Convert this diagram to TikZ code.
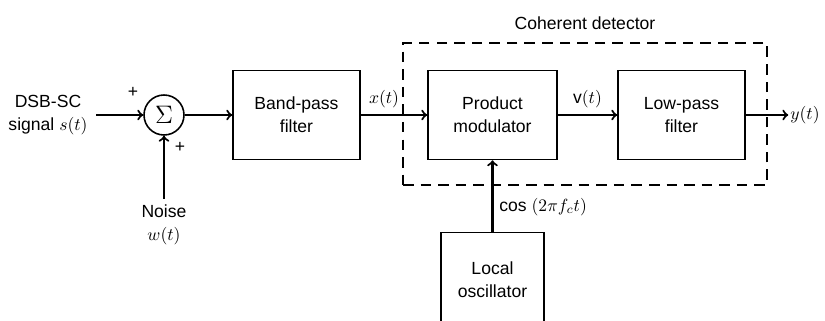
\documentclass[tikz,border=0pt]{standalone}
\usepackage{amsmath}
\usepackage{fontspec}
\setmainfont{Liberation Sans}
\usepackage{tikz}
\usetikzlibrary{arrows,positioning,calc}

\begin{document}
\begin{tikzpicture}[
    block/.style={draw, line width=0.9pt, minimum width=2.54cm, minimum height=1.78cm, align=center, font=\fontsize{10}{13}\selectfont},
    summer/.style={draw, line width=0.9pt, circle, minimum size=0.8cm, inner sep=0pt, font=\Large},
    detbox/.style={draw, line width=0.9pt, dash pattern=on 6pt off 4pt, minimum width=7.28cm, minimum height=2.84cm},
    lbl/.style={font=\fontsize{10}{13}\selectfont, align=center},
    arrow/.style={->, line width=1.2pt, >=to}
]
    \useasboundingbox (0,0) rectangle (16.5,6.4);

    % Coherent detector wrapper
    \node[detbox] (det) at (11.7,4.12) {};
    \node[lbl, above=0.12cm] (dettitle) at (det.north) {Coherent detector};

    % Blocks
    \node[lbl] (src) at (0.96,4.1) {DSB-SC\\signal $s(t)$};
    \node[summer] (sum) at (3.28,4.1) {$\Sigma$};
    \node[block] (bpf) at (5.93,4.1) {Band-pass\\filter};
    \node[block, minimum width=2.58cm] (pm) at (9.85,4.1) {Product\\modulator};
    \node[block] (lpf) at (13.63,4.1) {Low-pass\\filter};
    \node[block, minimum width=2.06cm, minimum height=1.9cm] (lo) at (9.85,0.8) {Local\\oscillator};
    \node[lbl] (noise) at (3.28,1.9) {Noise\\$w(t)$};
    \node[lbl, inner sep=1pt] (out) at (16.1,4.1) {$y(t)$};

    % Signs at the summer
    \node (plus1) at (2.66,4.56) {+};
    \node (plus2) at (3.6,3.46) {+};

    % Signal path
    \draw[arrow] (src.east) ++(0.05,0) -- (sum.west);
    \draw[arrow] (noise.north) -- (sum.south);
    \draw[arrow] (sum.east) -- (bpf.west);
    \draw[arrow] (bpf.east) -- node[pos=0.35, above, lbl] {$x(t)$} (pm.west);
    \draw[arrow] (pm.east) -- node[above, lbl] {v$(t)$} (lpf.west);
    \draw[arrow] (lpf.east) -- (out.west);

    % Carrier
    \draw[arrow] (lo.north) -- node[pos=0.35, right, lbl] {cos $(2\pi f_c t)$} (pm.south);
\end{tikzpicture}
\end{document}
